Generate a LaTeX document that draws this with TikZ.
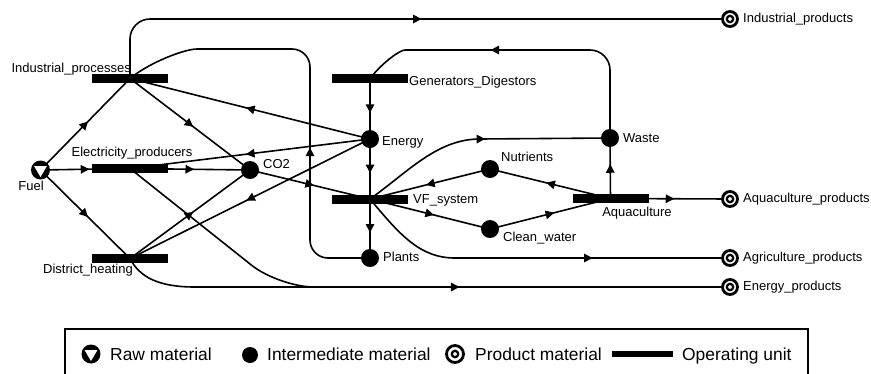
\documentclass[tikz,border=0pt]{standalone}
\usepackage{fontspec}
\setmainfont{Liberation Sans}
\usetikzlibrary{arrows.meta,decorations.markings}
\pgfdeclarelayer{background}
\pgfsetlayers{background,main}
\tikzset{
 unit/.style={rectangle,fill=black,minimum width=76pt,minimum height=9pt,inner sep=0pt},
 inter/.style={circle,fill=black,minimum size=18pt,inner sep=0pt},
 prod/.style={circle,draw=black,line width=2.8pt,fill=white,minimum size=15pt,inner sep=0pt,
   path picture={\draw[line width=2.2pt] (path picture bounding box.center) circle (3.2pt);}},
 raw/.style={circle,fill=black,minimum size=19pt,inner sep=0pt,
   path picture={\fill[white] ([shift={(-6.5pt,4pt)}]path picture bounding box.center) -- ([shift={(6.5pt,4pt)}]path picture bounding box.center) -- ([shift={(0pt,-7pt)}]path picture bounding box.center) -- cycle;}},
 lbl/.style={inner sep=0pt,font=\fontsize{13}{15}\selectfont},
 leg/.style={inner sep=0pt,font=\fontsize{17.4}{20}\selectfont},
 edge/.style={line width=1.6pt},
 midarrow/.style={postaction={decorate},decoration={markings,mark=at position #1 with {\arrow[xshift=4pt]{Triangle[length=8.5pt,width=8.5pt]}}}},
}
\begin{document}
\begin{tikzpicture}[x=1pt,y=-1pt]
\useasboundingbox (0,0) rectangle (871,373);
% operating units
\node[unit] (IP) at (130,78.5) {};
\node[unit] (EP) at (130,168.5) {};
\node[unit] (DH) at (130,258.5) {};
\node[unit] (Gen) at (370,78.5) {};
\node[unit] (VF) at (370,199) {};
\node[unit] (Aqua) at (610.5,198.5) {};
% raw material
\node[raw] (Fuel) at (40.5,170) {};
% intermediates
\node[inter] (CO2) at (250,170) {};
\node[inter] (Energy) at (370,139) {};
\node[inter] (Plants) at (370,258) {};
\node[inter] (Nutrients) at (490,169) {};
\node[inter] (CW) at (490,229) {};
\node[inter] (Waste) at (610,138) {};
% products
\node[prod] (IndP) at (730,19) {};
\node[prod] (AqP) at (730,199) {};
\node[prod] (AgP) at (730,258) {};
\node[prod] (EnP) at (730,287) {};
% labels
\node[lbl,anchor=base east] (tIP) at (131,72.5) {Industrial\_processes};
\node[lbl,anchor=base] (tEP) at (132,156.5) {Electricity\_producers};
\node[lbl,anchor=base] (tFuel) at (31,190.5) {Fuel};
\node[lbl,anchor=base] (tDH) at (88,273.5) {District\_heating};
\node[lbl,anchor=base west] (tCO2) at (263,168) {CO2};
\node[lbl,anchor=base west] (tGen) at (409,85) {Generators\_Digestors};
\node[lbl,anchor=base west] (tEnergy) at (382,145) {Energy};
\node[lbl,anchor=base west] (tNut) at (501,161.5) {Nutrients};
\node[lbl,anchor=base west] (tVF) at (413,203) {VF\_system};
\node[lbl,anchor=base west] (tCW) at (503,241) {Clean\_water};
\node[lbl,anchor=base west] (tPlants) at (383,261) {Plants};
\node[lbl,anchor=base west] (tWaste) at (623,142) {Waste};
\node[lbl,anchor=base] (tAqua) at (637,216.5) {Aquaculture};
\node[lbl,anchor=base west] (tIndP) at (743,22.5) {Industrial\_products};
\node[lbl,anchor=base west] (tAqP) at (743,202.5) {Aquaculture\_products};
\node[lbl,anchor=base west] (tAgP) at (743,261.5) {Agriculture\_products};
\node[lbl,anchor=base west] (tEnP) at (743,290.5) {Energy\_products};
% connectors
\begin{pgfonlayer}{background}
\draw[edge,midarrow=0.5] (Fuel.center) -- (IP.center);
\draw[edge,midarrow=0.5] (Fuel.center) -- (EP.center);
\draw[edge,midarrow=0.5] (Fuel.center) -- (DH.center);
\draw[edge,midarrow=0.5] (IP.center) -- (CO2.center);
\draw[edge,midarrow=0.5] (EP.center) -- (CO2.center);
\draw[edge,midarrow=0.5] (DH.center) -- (CO2.center);
\draw[edge,midarrow=0.5] (Energy.center) -- (IP.center);
\draw[edge,midarrow=0.5] (Energy.center) -- (EP.center);
\draw[edge,midarrow=0.5] (Energy.center) -- (DH.center);
\draw[edge,midarrow=0.5] (CO2.center) -- (VF.center);
\draw[edge,midarrow=0.5] (Gen.center) -- (Energy.center);
\draw[edge,midarrow=0.5] (Energy.center) -- (VF.center);
\draw[edge,midarrow=0.5] (VF.center) -- (Plants.center);
\draw[edge,midarrow=0.5] (Nutrients.center) -- (VF.center);
\draw[edge,midarrow=0.5] (VF.center) -- (CW.center);
\draw[edge,midarrow=0.5] (Aqua.center) -- (Nutrients.center);
\draw[edge,midarrow=0.5] (CW.center) -- (Aqua.center);
\draw[edge,midarrow=0.5] (Aqua.center) -- (Waste.center);
\draw[edge,midarrow=0.5] (Aqua.center) -- (AqP.center);
\draw[edge,midarrow=0.52,rounded corners=20pt] (IP.center) |- (IndP.center);
\draw[edge,midarrow=0.36] (Plants.center) [rounded corners=18pt] -- (310,258) -- (310,49) -- (215,49) [sharp corners] .. controls (185,49) and (150,62) .. (IP.center);
\draw[edge,midarrow=0.59] (Waste.center) [rounded corners=20pt] -- (610,50) -- (425,50) [sharp corners] .. controls (400,50) and (383,62) .. (Gen.center);
\draw[edge,midarrow=0.5] (VF.center) .. controls (408,172) and (437,139) .. (480,139) -- (Waste.center);
\draw[edge,midarrow=0.63] (VF.center) .. controls (400,235) and (420,258) .. (455,258) -- (AgP.center);
\draw[edge,rounded corners=35pt] (EP.center) -- (279,287) -- (EnP.center);
\draw[edge,midarrow=0.55] (DH.center) .. controls (140,278) and (160,287) .. (195,287) -- (EnP.center);
\end{pgfonlayer}
% legend
\draw[line width=1.2pt] (65,380) -- (65,329) -- (808,329) -- (808,380);
\node[raw] (lRaw) at (91,354) {};
\node[leg,anchor=base west] (tlRaw) at (110,360) {Raw material};
\node[inter,minimum size=16pt] (lInter) at (250,355) {};
\node[leg,anchor=base west] (tlInter) at (267,360) {Intermediate material};
\node[prod,minimum size=17pt] (lProd) at (455,354) {};
\node[leg,anchor=base west] (tlProd) at (475,360) {Product material};
\node[unit,minimum width=61pt,minimum height=6.5pt] (lUnit) at (642.5,354) {};
\node[leg,anchor=base west] (tlUnit) at (682,360) {Operating unit};
\end{tikzpicture}
\end{document}
